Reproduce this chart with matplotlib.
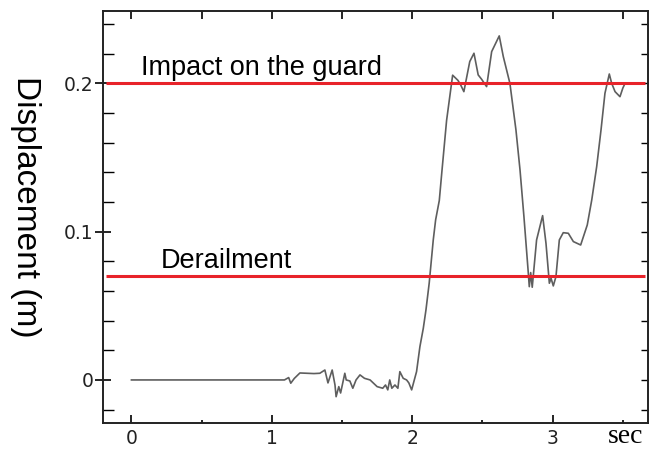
import matplotlib
matplotlib.use("Agg")
import matplotlib.pyplot as plt
from matplotlib.ticker import MultipleLocator, FixedLocator

# Lateral wheel displacement over time
time_s = [0, 1.09, 1.12, 1.135, 1.16, 1.2, 1.25, 1.3, 1.342, 1.378, 1.40, 1.43,
          1.45, 1.458, 1.477, 1.49, 1.52, 1.53, 1.556, 1.577, 1.6, 1.628, 1.66,
          1.70, 1.75, 1.79, 1.81, 1.826, 1.84, 1.855, 1.877, 1.898, 1.912, 1.936,
          1.96, 1.976, 1.996, 2.031, 2.055, 2.079, 2.098, 2.121, 2.15, 2.167,
          2.193, 2.21, 2.245, 2.288, 2.326, 2.345, 2.368, 2.41, 2.44, 2.47,
          2.494, 2.53, 2.566, 2.62, 2.649, 2.696, 2.739, 2.768, 2.796, 2.827,
          2.834, 2.844, 2.855, 2.886, 2.929, 2.953, 2.977, 2.989, 3.005, 3.024,
          3.048, 3.076, 3.112, 3.148, 3.2, 3.247, 3.279, 3.314, 3.345, 3.373,
          3.404, 3.421, 3.445, 3.48, 3.5, 3.516]
displacement_m = [0, 0, 0.0016, -0.0022, 0.001, 0.0047, 0.0045, 0.0043, 0.0045,
                  0.0067, -0.002, 0.0067, -0.0034, -0.0113, -0.0045, -0.0088,
                  0.0045, 0.0, -0.0007, -0.0056, 0.0, 0.0034, 0.0011, 0.0,
                  -0.0045, -0.0056, -0.0034, -0.0067, 0.0, -0.0056, -0.0034,
                  -0.0056, 0.0056, 0.0011, 0.0, -0.002, -0.0067, 0.0056, 0.0225,
                  0.0348, 0.0472, 0.0652, 0.0944, 0.108, 0.121, 0.139, 0.175,
                  0.2055, 0.202, 0.199, 0.1944, 0.2147, 0.2203, 0.2057, 0.2028,
                  0.1978, 0.2214, 0.232, 0.218, 0.2, 0.1686, 0.1416, 0.110,
                  0.0721, 0.0629, 0.0724, 0.0625, 0.0944, 0.1108, 0.0921, 0.0652,
                  0.0686, 0.0634, 0.0697, 0.0944, 0.0993, 0.0989, 0.0933, 0.091,
                  0.1045, 0.1214, 0.1438, 0.1686, 0.1933, 0.2063, 0.2, 0.1944,
                  0.191, 0.1967, 0.2]

# Threshold levels
threshold_names = ["Impact on the guard", "Derailment"]
threshold_values = [0.2, 0.07]

x_ticks = [0, 1, 2, 3]
y_ticks = [0, 0.1, 0.2]
y_tick_labels = ["0", "0.1", "0.2"]

fig = plt.figure(figsize=(6.5, 4.5), dpi=100)
ax = fig.add_axes([0.159, 0.0611, 0.838, 0.9145])

ax.plot(time_s, displacement_m, color="#5e5e5e", lw=1.2, zorder=3)

for name, level, tx in zip(threshold_names, threshold_values, [0.066, 0.209]):
    ax.plot([-0.18, 3.66], [level, level], color="#e8232a", lw=2.2, zorder=4,
            solid_capstyle="butt")
    ax.text(tx, level + 0.0055, name, fontsize=19.5, family="Liberation Sans",
            ha="left", va="baseline", color="black")

ax.set_xlim(-0.2, 3.68)
ax.set_ylim(-0.0287, 0.2488)

for s in ax.spines.values():
    s.set_linewidth(1.4)
    s.set_color("#222222")

ax.xaxis.set_major_locator(FixedLocator(x_ticks))
ax.xaxis.set_minor_locator(MultipleLocator(0.5))
ax.set_xticklabels([str(v) for v in x_ticks])
ax.yaxis.set_major_locator(FixedLocator(y_ticks))
ax.set_yticklabels(y_tick_labels)
ax.yaxis.set_minor_locator(MultipleLocator(0.02))

ax.tick_params(axis="x", which="major", direction="in", length=6, width=1.2,
               labelsize=13.5, pad=5, top=False)
ax.tick_params(axis="x", which="minor", direction="in", length=2.5, width=1.2,
               top=False)
ax.tick_params(axis="y", which="major", direction="inout", length=12, width=1.2,
               labelsize=13.5, pad=1, right=False)
ax.tick_params(axis="y", which="minor", direction="in", length=8, width=1.0,
               right=False)
for lab in ax.get_xticklabels() + ax.get_yticklabels():
    lab.set_family("DejaVu Sans")
    lab.set_color("#222222")

# Ticks along the top and right edges
top = ax.secondary_xaxis("top")
top.xaxis.set_major_locator(MultipleLocator(0.5))
top.tick_params(direction="in", length=6, width=1.2, labeltop=False)
top.spines["top"].set_visible(False)
right = ax.secondary_yaxis("right")
right.yaxis.set_major_locator(MultipleLocator(0.02))
right.tick_params(direction="in", length=5, width=1.0, labelright=False)
right.spines["right"].set_visible(False)

ax.set_ylabel("Displacement (m)", fontsize=24, family="Liberation Sans",
              rotation=270, va="center", ha="center")
ax.yaxis.set_label_coords(-0.143, 0.524)

fig.text(0.935, 0.002, "sec", fontsize=20, family="Liberation Serif",
         ha="left", va="bottom")

fig.savefig("out.png", dpi=100)
